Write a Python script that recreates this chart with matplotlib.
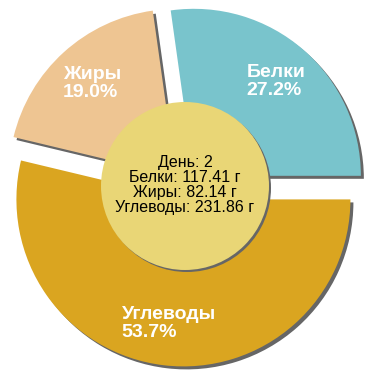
import matplotlib.pyplot as plt
from matplotlib.patches import Circle

names = ["Белки", "Жиры", "Углеводы"]
grams = [117.41, 82.14, 231.86]
day = 2

colors = ["#79C4CC", "#EEC592", "#DAA520"]
SHADOW = "#666666"
CX, CY, R = 185, 184, 167
EXPL = [13.5] * 3  # pie explode is in data units


def main():
    fig = plt.figure(figsize=(3.7, 3.7), dpi=100)
    ax = fig.add_axes([0, 0, 1, 1])
    plt.rcParams["font.family"] = ["Liberation Sans", "DejaVu Sans"]

    # drop shadow first, shifted right and down
    ax.pie(grams, startangle=0, counterclock=True, explode=EXPL,
           center=(CX + 3, CY - 3), radius=R, colors=[SHADOW] * 3,
           wedgeprops={"linewidth": 0})

    wedges, _, autotexts = ax.pie(
        grams, startangle=0, counterclock=True, explode=EXPL,
        center=(CX, CY), radius=R, colors=colors,
        autopct="%1.1f%%", pctdistance=0.75,
        wedgeprops={"linewidth": 0},
        textprops={"color": "white", "fontsize": 14, "fontweight": "bold",
                   "multialignment": "left", "linespacing": 1.1},
    )
    for t, name in zip(autotexts, names):
        t.set_text(name + "\n" + t.get_text())

    ax.add_patch(Circle((CX + 2, CY - 2), 84, color=SHADOW, lw=0, zorder=3))
    ax.add_patch(Circle((CX, CY), 84, color="#E9D676", lw=0, zorder=4))

    info = (f"День: {day}\n"
            f"{names[0]}: {grams[0]:.2f} г\n"
            f"{names[1]}: {grams[1]:.2f} г\n"
            f"{names[2]}: {grams[2]:.2f} г")
    ax.text(CX, CY + 1, info, ha="center", va="center", fontsize=11.5,
            color="black", linespacing=1.0, zorder=5)

    ax.set_xlim(0, 370)
    ax.set_ylim(0, 370)
    ax.set_aspect("equal")
    ax.axis("off")

    fig.savefig("out.png", dpi=100)


if __name__ == "__main__":
    main()
